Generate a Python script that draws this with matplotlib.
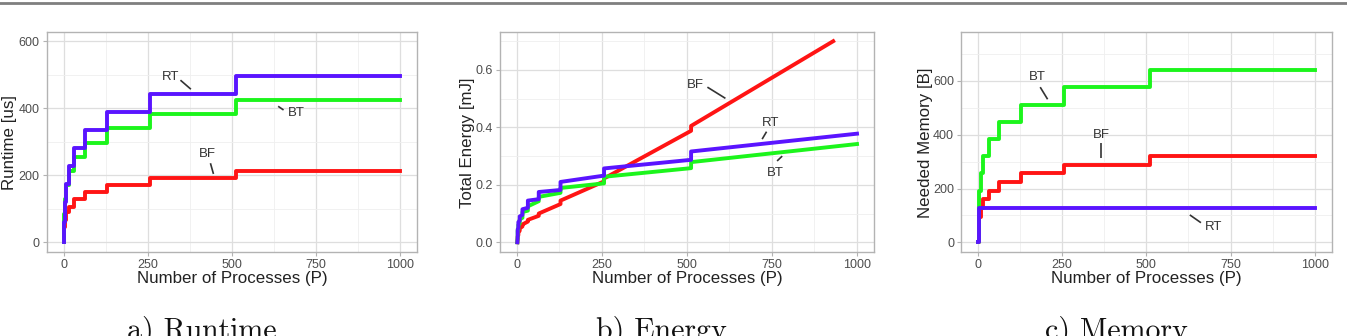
"""Runtime, energy and memory versus number of processes (three panels)."""

import matplotlib.pyplot as plt
from matplotlib.lines import Line2D
from matplotlib.ticker import MultipleLocator

# Step data: value holds from each P up to the next one
P_STEPS = [1, 2, 4, 8, 16, 32, 64, 128, 256, 512, 1000]

RUNTIME_BF = [20, 45, 67, 90, 106, 128, 150, 171, 192, 213, 213]
RUNTIME_BT = [0, 85, 130, 172, 214, 256, 297, 340, 383, 426, 426]
RUNTIME_RT = [0, 60, 120, 174, 228, 282, 335, 389, 443, 497, 497]

MEMORY_BF = [0, 64, 96, 128, 160, 192, 224, 256, 288, 320, 320]
MEMORY_BT = [0, 128, 192, 256, 320, 384, 448, 512, 576, 640, 640]
MEMORY_RT = [0, 128, 128, 128, 128, 128, 128, 128, 128, 128, 128]

# Energy: linear between jumps at the powers of two
ENERGY_BF_P = [1, 2, 2, 4, 4, 8, 8, 16, 16, 32, 32, 64, 64, 128, 128, 256, 256, 512, 512, 930]
ENERGY_BF = [0.0, 0.012, 0.02, 0.025, 0.033, 0.04, 0.048, 0.055, 0.062, 0.072, 0.078,
             0.092, 0.10, 0.133, 0.145, 0.212, 0.222, 0.388, 0.405, 0.70]
ENERGY_BT_P = [1, 2, 2, 4, 4, 8, 8, 16, 16, 32, 32, 64, 64, 128, 128, 256, 256, 512, 512, 1000]
ENERGY_BT = [0.0, 0.02, 0.04, 0.045, 0.06, 0.065, 0.08, 0.085, 0.105, 0.11, 0.125,
             0.143, 0.158, 0.172, 0.189, 0.205, 0.228, 0.258, 0.279, 0.342]
ENERGY_RT_P = [1, 2, 2, 4, 4, 8, 8, 16, 16, 32, 32, 64, 64, 128, 128, 256, 256, 512, 512, 1000]
ENERGY_RT = [0.0, 0.02, 0.045, 0.05, 0.07, 0.075, 0.09, 0.095, 0.115, 0.12, 0.145,
             0.15, 0.175, 0.182, 0.21, 0.232, 0.257, 0.287, 0.316, 0.378]

# Direct labels: (text, text x, text y, segment x0, y0, x1, y1)
RUNTIME_LABELS = [
    ("RT", 317, 494, 347, 484, 378, 457),
    ("BT", 691, 385, 637, 406, 653, 395),
    ("BF", 428, 263, 436, 236, 445, 204),
]
ENERGY_LABELS = [
    ("BF", 525, 0.548, 560, 0.540, 613, 0.501),
    ("RT", 745, 0.414, 734, 0.385, 721, 0.359),
    ("BT", 760, 0.242, 765, 0.283, 780, 0.300),
]
MEMORY_LABELS = [
    ("BT", 175, 614, 185, 577, 207, 532),
    ("BF", 366, 399, 364, 370, 364, 312),
    ("RT", 700, 58, 629, 102, 662, 73),
]

COLORS = {"BF": "#ff1414", "BT": "#1cf51c", "RT": "#5a14ff"}
W, H = 1347, 336


def style_axes(ax, ylim, ymajor, yminor, ylabel, ylabel_x):
    ax.set_xlim(-50, 1050)
    ax.set_ylim(*ylim)
    ax.xaxis.set_major_locator(MultipleLocator(250))
    ax.xaxis.set_minor_locator(MultipleLocator(125))
    ax.yaxis.set_major_locator(MultipleLocator(ymajor))
    ax.yaxis.set_minor_locator(MultipleLocator(yminor))
    ax.grid(which="major", color="#dedede", lw=0.9)
    ax.grid(which="minor", color="#efefef", lw=0.6)
    ax.set_axisbelow(True)
    for sp in ax.spines.values():
        sp.set_color("#b3b3b3")
        sp.set_linewidth(1.0)
    ax.tick_params(which="major", length=3, width=0.8, color="#b3b3b3",
                   labelsize=9, labelcolor="#4d4d4d", pad=2)
    ax.tick_params(which="minor", length=0)
    ax.set_xlabel("Number of Processes (P)", fontsize=12.2, labelpad=0, color="#222222")
    ax.set_ylabel(ylabel, fontsize=12.2, color="#222222")
    # x here is the right-hand edge of the rotated label
    ax.yaxis.set_label_coords(ylabel_x, 0.5)


def add_labels(ax, labels):
    for text, tx, ty, x0, y0, x1, y1 in labels:
        ax.text(tx, ty, text, fontsize=9.5, color="#333333", ha="center", va="center")
        ax.plot([x0, x1], [y0, y1], color="#333333", lw=1.2, solid_capstyle="butt")


plt.rcParams["font.family"] = ["Liberation Sans", "DejaVu Sans"]

fig = plt.figure(figsize=(W / 100, H / 100), dpi=100)

ax_a = fig.add_axes([46.7 / W, 1 - 252.3 / H, 370.6 / W, 220 / H])
ax_b = fig.add_axes([500 / W, 1 - 252.3 / H, 374 / W, 220 / H])
ax_c = fig.add_axes([961 / W, 1 - 252.3 / H, 370.7 / W, 220 / H])

lw = 2.8
ax_a.step(P_STEPS, RUNTIME_BF, where="post", color=COLORS["BF"], lw=lw)
ax_a.step(P_STEPS, RUNTIME_BT, where="post", color=COLORS["BT"], lw=lw)
ax_a.step(P_STEPS, RUNTIME_RT, where="post", color=COLORS["RT"], lw=lw)
style_axes(ax_a, (-30, 627), 200, 100, "Runtime [us]", -0.079)
add_labels(ax_a, RUNTIME_LABELS)

ax_b.plot(ENERGY_BF_P, ENERGY_BF, color=COLORS["BF"], lw=lw)
ax_b.plot(ENERGY_BT_P, ENERGY_BT, color=COLORS["BT"], lw=lw)
ax_b.plot(ENERGY_RT_P, ENERGY_RT, color=COLORS["RT"], lw=lw)
style_axes(ax_b, (-0.035, 0.731), 0.2, 0.1, "Total Energy [mJ]", -0.067)
ax_b.yaxis.set_major_formatter(lambda v, pos: f"{v:.1f}")
add_labels(ax_b, ENERGY_LABELS)

ax_c.step(P_STEPS, MEMORY_BF, where="post", color=COLORS["BF"], lw=lw)
ax_c.step(P_STEPS, MEMORY_BT, where="post", color=COLORS["BT"], lw=lw)
ax_c.step(P_STEPS, MEMORY_RT, where="post", color=COLORS["RT"], lw=lw)
style_axes(ax_c, (-37, 781), 200, 100, "Needed Memory [B]", -0.076)
add_labels(ax_c, MEMORY_LABELS)

# Grey rule along the top edge
fig.add_artist(Line2D([0, 1], [1 - 2.8 / H, 1 - 2.8 / H], color="#7f7f7f", lw=2.0,
                      transform=fig.transFigure))

# Sub-figure captions, cut off by the bottom edge as in the source
for cx, caption in [(202, "a) Runtime"), (661, "b) Energy"), (1116, "c) Memory")]:
    fig.text(cx / W, -2.5 / H, caption, family="cmr10", fontsize=21.5,
             ha="center", va="baseline", color="#111111")

fig.savefig("out.png", dpi=100)
